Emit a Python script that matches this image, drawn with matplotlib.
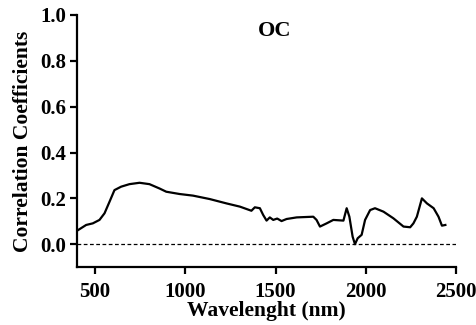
import matplotlib
matplotlib.use("Agg")
import matplotlib.pyplot as plt

wavelength = [400, 450, 487, 524, 552, 580, 607, 644, 690, 746, 801, 857, 894, 968,
              1042, 1135, 1228, 1302, 1366, 1385, 1413, 1431, 1450, 1468, 1487, 1509,
              1533, 1561, 1617, 1709, 1727, 1746, 1783, 1820, 1876, 1894, 1909, 1927,
              1940, 1955, 1977, 1996, 2024, 2051, 2098, 2153, 2209, 2246, 2264, 2283,
              2311, 2339, 2376, 2403, 2422, 2441]
corr = [0.059, 0.084, 0.091, 0.106, 0.135, 0.186, 0.236, 0.251, 0.262, 0.268, 0.262,
        0.243, 0.229, 0.219, 0.212, 0.197, 0.178, 0.164, 0.146, 0.161, 0.157, 0.128,
        0.103, 0.117, 0.106, 0.112, 0.101, 0.110, 0.117, 0.120, 0.106, 0.077, 0.091,
        0.106, 0.103, 0.157, 0.120, 0.033, 0.000, 0.026, 0.041, 0.106, 0.149, 0.157,
        0.142, 0.113, 0.077, 0.074, 0.091, 0.120, 0.200, 0.178, 0.157, 0.120, 0.081,
        0.084]
xticks = [500, 1000, 1500, 2000, 2500]
yticks = [0.0, 0.2, 0.4, 0.6, 0.8, 1.0]

plt.rcParams['font.family'] = ['Liberation Serif', 'DejaVu Serif']
plt.rcParams['font.weight'] = 'bold'

fig = plt.figure(figsize=(4.76, 3.25), dpi=100)
ax = fig.add_axes([0.162, 0.178, 0.796, 0.776])
ax.plot(wavelength, corr, color='black', lw=1.6)
ax.axhline(0, color='black', lw=0.9, ls=(0, (3, 2)))
ax.set_xlim(400, 2500)
ax.set_ylim(-0.1, 1.0)
ax.set_xticks(xticks)
ax.set_yticks(yticks)
ax.set_yticklabels([f"{v:.1f}" for v in yticks])
for s in ['top', 'right']:
    ax.spines[s].set_visible(False)
for s in ['left', 'bottom']:
    ax.spines[s].set_linewidth(1.6)
ax.tick_params(direction='out', width=1.6, length=5, labelsize=15, pad=3)
ax.tick_params(axis='x', pad=6)
for lab in ax.get_xticklabels() + ax.get_yticklabels():
    lab.set_fontweight('bold')
ax.set_xlabel('Wavelenght (nm)', fontsize=15.5, fontweight='bold', labelpad=-1)
ax.set_ylabel('Correlation Coefficients', fontsize=15.5, fontweight='bold', labelpad=5)
ax.text(0.52, 0.937, 'OC', transform=ax.transAxes, ha='center', va='center',
        fontsize=16, fontweight='bold')
fig.savefig('out.png', dpi=100)
